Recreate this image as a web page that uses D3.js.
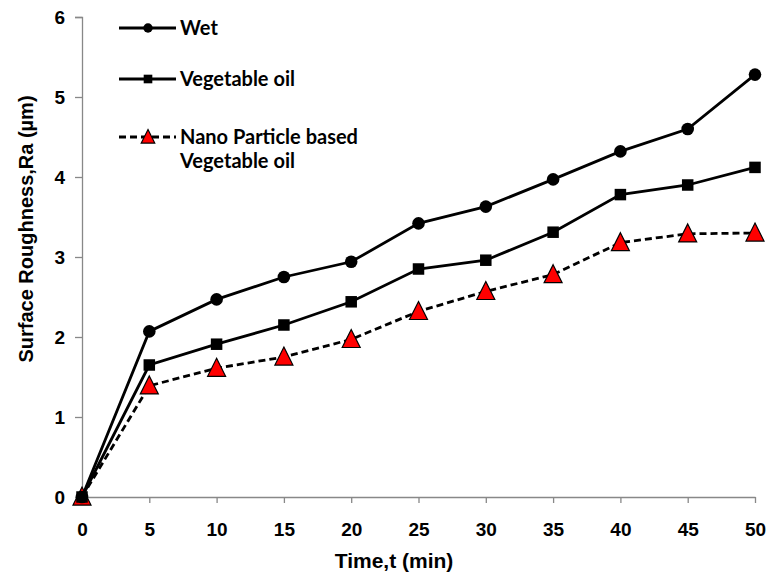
<!DOCTYPE html>
<html>
<head>
<meta charset="utf-8">
<script src="https://cdn.jsdelivr.net/npm/d3@7"></script>
<style>
	body { margin: 0; background: #fff; }
	svg { display: block; }
</style>
</head>
<body>
<svg id="chart" width="768" height="575"></svg>
<script>
	// データ
	const times = [0, 5, 10, 15, 20, 25, 30, 35, 40, 45, 50];
	const wet = [0, 2.07, 2.47, 2.75, 2.94, 3.42, 3.63, 3.97, 4.32, 4.60, 5.28];
	const vegOil = [0, 1.65, 1.91, 2.15, 2.44, 2.85, 2.96, 3.31, 3.78, 3.90, 4.12];
	const nanoVegOil = [0, 1.39, 1.61, 1.75, 1.97, 2.32, 2.57, 2.78, 3.18, 3.29, 3.30];
	const yTicks = [0, 1, 2, 3, 4, 5, 6];
	const seriesNames = ['Wet', 'Vegetable oil', ['Nano Particle based', 'Vegetable oil']];

	const axisFont = '"Liberation Sans", Arial, sans-serif';
	const legendFont = 'Lato, "Open Sans", sans-serif';

	const svg = d3.select('#chart');

	const x = d3.scaleLinear().domain([0, 50]).range([82, 755]);
	const y = d3.scaleLinear().domain([0, 6]).range([497, 17]);

	// 軸
	const axisColor = '#888';
	function styleAxis(g) {
		g.attr('font-family', axisFont).attr('font-size', 19).attr('font-weight', 'bold');
		g.select('.domain').attr('stroke', axisColor).attr('stroke-width', 1.3);
		g.selectAll('.tick line').attr('stroke', axisColor).attr('stroke-width', 1.3);
		g.selectAll('.tick text').attr('fill', '#000');
	}

	svg.append('g')
		.attr('transform', `translate(${x(0)},0)`)
		.call(d3.axisLeft(y).tickValues(yTicks).tickSize(7).tickPadding(10).tickFormat(d3.format('d')))
		.call(styleAxis);

	svg.append('g')
		.attr('transform', `translate(0,${y(0)})`)
		.call(d3.axisBottom(x).tickValues(times).tickSize(6).tickPadding(20).tickSizeOuter(0).tickFormat(d3.format('d')))
		.call(styleAxis);

	// 軸タイトル
	svg.append('text')
		.attr('x', 394).attr('y', 568)
		.attr('text-anchor', 'middle')
		.attr('font-family', axisFont).attr('font-size', 21).attr('font-weight', 'bold')
		.text('Time,t (min)');

	svg.append('text')
		.attr('transform', 'translate(33,229) rotate(-90)')
		.attr('text-anchor', 'middle')
		.attr('font-family', axisFont).attr('font-size', 20).attr('font-weight', 'bold')
		.text('Surface Roughness,Ra (µm)');

	// 系列
	const series = [
		{values: wet, dash: null, marker: 'circle'},
		{values: vegOil, dash: null, marker: 'square'},
		{values: nanoVegOil, dash: '7,4', marker: 'triangle'}
	];

	const line = d3.line()
		.x(d => x(d.t))
		.y(d => y(d.v));

	function drawMarker(g, type, cx, cy, scale) {
		if (type === 'circle') {
			g.append('circle').attr('cx', cx).attr('cy', cy).attr('r', 6.3 * scale).attr('fill', '#000');
		} else if (type === 'square') {
			const s = 11.5 * scale;
			g.append('rect').attr('x', cx - s / 2).attr('y', cy - s / 2).attr('width', s).attr('height', s).attr('fill', '#000');
		} else {
			const w = 18 * scale, h = 18 * scale;
			g.append('path')
				.attr('d', `M${cx},${cy - h * 0.55}L${cx + w / 2},${cy + h * 0.45}L${cx - w / 2},${cy + h * 0.45}Z`)
				.attr('fill', '#ff0000').attr('stroke', '#000').attr('stroke-width', 1.2);
		}
	}

	series.slice().reverse().forEach(s => {
		const pts = times.map((t, i) => ({t: t, v: s.values[i]}));
		svg.append('path')
			.datum(pts)
			.attr('d', line)
			.attr('fill', 'none')
			.attr('stroke', '#000')
			.attr('stroke-width', 2.8)
			.attr('stroke-dasharray', s.dash);
	});

	series.slice().reverse().forEach(s => {
		const g = svg.append('g');
		times.forEach((t, i) => drawMarker(g, s.marker, x(t), y(s.values[i]), 1));
	});

	// 凡例
	const legendRows = [28, 79, 137];
	series.forEach((s, i) => {
		const ly = legendRows[i];
		const g = svg.append('g');
		g.append('line')
			.attr('x1', 119).attr('x2', 176)
			.attr('y1', ly).attr('y2', ly)
			.attr('stroke', '#000').attr('stroke-width', 2.8)
			.attr('stroke-dasharray', s.dash);
		drawMarker(g, s.marker, 148, ly, 0.75);
		const name = seriesNames[i];
		const lines = Array.isArray(name) ? name : [name];
		const text = g.append('text')
			.attr('font-family', legendFont).attr('font-size', 20).attr('font-weight', 'bold')
			.attr('fill', '#000');
		lines.forEach((ln, j) => {
			text.append('tspan')
				.attr('x', 180)
				.attr('y', ly + 7 + j * 24)
				.text(ln);
		});
	});
</script>
</body>
</html>
